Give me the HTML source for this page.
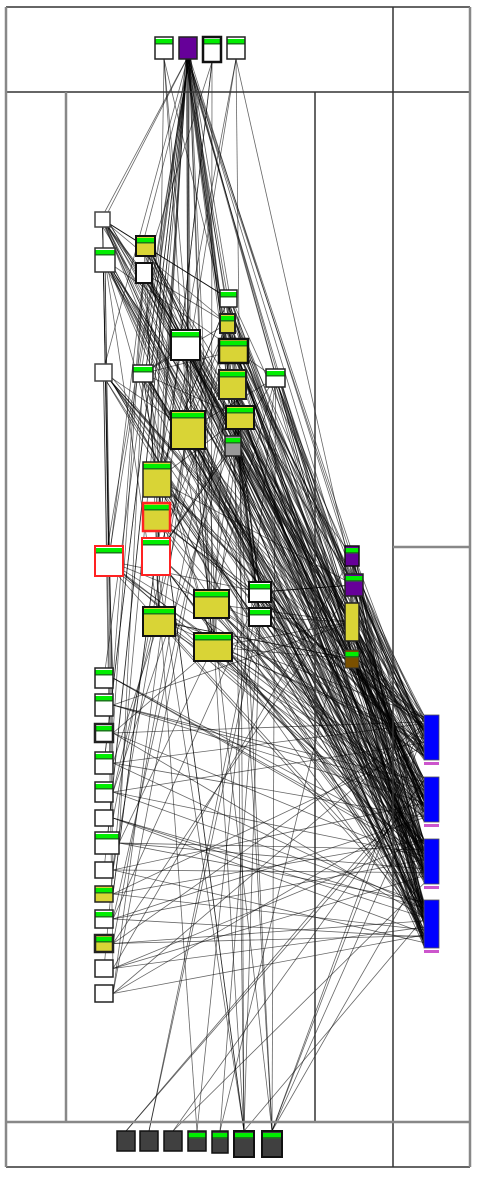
<!DOCTYPE html>
<html><head><meta charset="utf-8"><style>
html,body{margin:0;padding:0;background:#fff;width:479px;height:1177px;overflow:hidden}
svg{display:block}
</style></head><body>
<svg id="s" width="479" height="1177" xmlns="http://www.w3.org/2000/svg">
<rect x="0" y="0" width="479" height="1177" fill="#fff"/>
<g id="edges" stroke="#000" stroke-opacity="0.6" stroke-width="0.8" fill="none"></g>
<g stroke="#333" stroke-width="1.5" fill="none">
<line x1="6" y1="7" x2="470" y2="7"/>
<line x1="6" y1="92" x2="470" y2="92"/>
<line x1="393" y1="7" x2="393" y2="1167"/>
<line x1="6" y1="1167" x2="470" y2="1167"/>
<line x1="315" y1="92" x2="315" y2="1122"/>
</g>
<g stroke="#888" stroke-width="2.5" fill="none">
<line x1="6" y1="7" x2="6" y2="1167"/>
<line x1="470" y1="7" x2="470" y2="1167"/>
<line x1="66" y1="92" x2="66" y2="1122"/>
<line x1="6" y1="1122" x2="470" y2="1122"/>
<line x1="393" y1="547" x2="470" y2="547"/>
</g>
<g id="nodes"></g>
</svg>
<script>
var N=[
[155,37,18,22,'#fff',1,'#222',1.5],[179,37,18,22,'#660099',0,'#222',1.5],[203,37,18,25,'#fff',1,'#111',2.5],[227,37,18,22,'#fff',1,'#222',1.5],
[95,212,15,15,'#fff',0,'#444',1.5],[95,248,20,24,'#fff',1,'#333',1.5],[136,236,19,20,'#d9d436',1,'#111',2],[136,263,16,20,'#fff',0,'#111',2],
[220,290,17,17,'#fff',1,'#222',1.5],[220,314,15,19,'#d9d436',1,'#222',2],[171,330,29,30,'#fff',1,'#111',2],[219,339,29,24,'#d9d436',1,'#111',2.5],
[219,370,27,29,'#d9d436',1,'#222',2],[266,369,19,18,'#fff',1,'#222',1.5],[95,364,17,17,'#fff',0,'#444',1.5],[133,365,20,17,'#fff',1,'#222',1.5],
[226,406,28,23,'#d9d436',1,'#111',2],[171,411,34,38,'#d9d436',1,'#111',2],[225,436,16,20,'#999',1,'#222',1.5],[143,462,28,35,'#d9d436',1,'#222',1.5],
[143,503,27,28,'#d9d436',1,'#f22',2.5],[95,546,28,30,'#fff',1,'#f22',2],[142,538,28,37,'#fff',1,'#f22',2],[194,590,35,28,'#d9d436',1,'#111',2],
[143,607,32,29,'#d9d436',1,'#111',2],[249,582,22,20,'#fff',1,'#111',2],[249,608,22,18,'#fff',1,'#111',2],[194,633,38,28,'#d9d436',1,'#111',2],
[345,546,14,20,'#660099',1,'#111',1.5],[345,574,18,22,'#660099',1,'#222',1.5],[345,603,14,38,'#d9d436',0,'#222',1.5],[345,650,14,18,'#7a5000',1,'#333',1]
];
var L=[[668,20,1],[694,22,1],[724,18,1,2.5],[752,22,1],[782,20,1],[810,16,0],[832,22,1,1.5,24],[862,16,0],[886,16,2],[910,18,1],[935,17,2,2.5],[960,17,0],[985,17,0]];
L.forEach(function(a){N.push([95,a[0],a[4]||18,a[1],a[2]==2?'#d9d436':'#fff',a[2]?1:0,'#222',a[3]||1.5]);});
var B=[[117,18,20,0],[140,18,20,0],[164,18,20,0],[188,18,20,1],[212,16,22,1],[234,20,26,1],[262,20,26,1]];
var bottomIdx=[];
B.forEach(function(b){bottomIdx.push(N.length);N.push([b[0],1131,b[1],b[2],'#404040',b[3],'#111',b[0]>=234?2:1.5]);});
var blue=[[424,715,45],[424,777,45],[424,839,45],[424,900,48]];
var seed=12345;function r(){seed=(seed*1103515245+12345)%2147483648;return seed/2147483648;}
var E='';function ln(a,b,c,d){E+='<line x1="'+a.toFixed(1)+'" y1="'+b.toFixed(1)+'" x2="'+c.toFixed(1)+'" y2="'+d.toFixed(1)+'"/>';}
function cx(n){return n[0]+n[2]/2}function cy(n){return n[1]+n[3]/2}
var mids=[];for(var i=4;i<32;i++)mids.push(i);
var lefts=[];for(var i=32;i<45;i++)lefts.push(i);
for(var k=0;k<40;k++){var t=N[mids[Math.floor(r()*mids.length)]];ln(188+r()*6-3,59,cx(t)+r()*8-4,cy(t));}
for(var k=0;k<6;k++){var t=N[lefts[Math.floor(r()*lefts.length)]];ln(188,59,cx(t),cy(t));}
for(var k=0;k<12;k++){var s=N[[0,2,3][k%3]];var t=N[mids[Math.floor(r()*mids.length)]];ln(cx(s),s[1]+s[3],cx(t),cy(t));}
mids.forEach(function(i){var n=N[i];var m=n[0]>300?12:(n[1]<480?10:6);for(var k=0;k<m;k++){var b=blue[Math.floor(r()*4)];ln(cx(n)+r()*8-4,cy(n)+r()*8-4,424,b[1]+r()*b[2]);}});
for(var k=0;k<80;k++){var a=N[mids[Math.floor(r()*mids.length)]],b=N[mids[Math.floor(r()*mids.length)]];ln(cx(a),cy(a),cx(b),cy(b));}
lefts.forEach(function(i){var n=N[i];for(var k=0;k<3;k++){var b=blue[Math.floor(r()*4)];ln(n[0]+n[2],cy(n),424,b[1]+r()*b[2]);}for(var k=0;k<2;k++){var t=N[mids[Math.floor(r()*mids.length)]];ln(n[0]+n[2],cy(n),cx(t),cy(t));}});
bottomIdx.forEach(function(i){var n=N[i];var m=i>=bottomIdx[5]?8:2;for(var k=0;k<m;k++){if(r()<0.5){var b=blue[Math.floor(r()*4)];ln(cx(n),n[1],424,b[1]+r()*b[2]);}else{var t=N[mids[Math.floor(r()*mids.length)]];ln(cx(n),n[1],cx(t),cy(t));}}});
document.getElementById('edges').innerHTML=E;
var S='';
N.forEach(function(n){var x=n[0],y=n[1],w=n[2],h=n[3];
S+='<rect x="'+x+'" y="'+y+'" width="'+w+'" height="'+h+'" fill="'+n[4]+'"/>';
if(n[5]){S+='<rect x="'+x+'" y="'+(y+2)+'" width="'+w+'" height="4" fill="#00ee00"/><rect x="'+x+'" y="'+(y+6)+'" width="'+w+'" height="1.5" fill="#1a7a1a"/>';}
S+='<rect x="'+x+'" y="'+y+'" width="'+w+'" height="'+h+'" fill="none" stroke="'+n[6]+'" stroke-width="'+n[7]+'"/>';});
blue.forEach(function(b){S+='<rect x="424" y="'+b[1]+'" width="15" height="'+b[2]+'" fill="#0000ff" stroke="#555" stroke-width="0.8"/><rect x="424" y="'+(b[1]+b[2]+2)+'" width="15" height="3" fill="#cc55cc"/>';});
document.getElementById('nodes').innerHTML=S;
</script>
</body></html>
